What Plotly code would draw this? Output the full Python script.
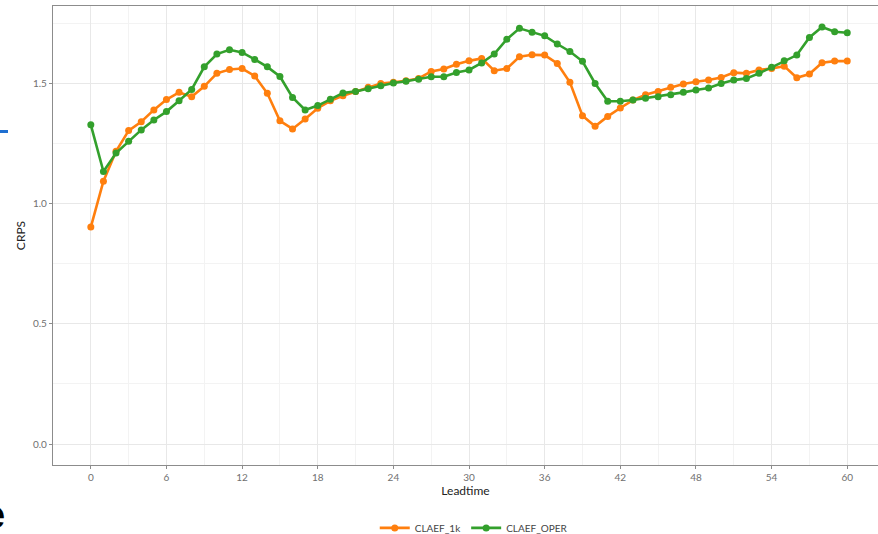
import plotly.graph_objects as go

# lead time in hours
leadtime = list(range(0, 61))

# CRPS
crps_1k = [0.902, 1.093, 1.217, 1.303, 1.340, 1.389, 1.432, 1.462, 1.444, 1.487,
           1.541, 1.557, 1.561, 1.530, 1.458, 1.344, 1.310, 1.351, 1.396, 1.427,
           1.448, 1.466, 1.483, 1.499, 1.504, 1.510, 1.520, 1.549, 1.559, 1.579,
           1.593, 1.603, 1.552, 1.561, 1.610, 1.618, 1.617, 1.582, 1.504, 1.365,
           1.321, 1.362, 1.397, 1.430, 1.452, 1.466, 1.483, 1.497, 1.506, 1.513,
           1.524, 1.544, 1.541, 1.555, 1.561, 1.571, 1.523, 1.538, 1.585, 1.592,
           1.592]
crps_oper = [1.327, 1.133, 1.210, 1.259, 1.306, 1.347, 1.382, 1.427, 1.474, 1.568,
             1.621, 1.639, 1.628, 1.599, 1.568, 1.528, 1.441, 1.389, 1.407, 1.433,
             1.459, 1.466, 1.477, 1.490, 1.501, 1.508, 1.517, 1.527, 1.527, 1.545,
             1.555, 1.584, 1.621, 1.683, 1.728, 1.712, 1.697, 1.663, 1.632, 1.591,
             1.499, 1.425, 1.425, 1.430, 1.438, 1.444, 1.452, 1.462, 1.472, 1.480,
             1.499, 1.513, 1.520, 1.541, 1.566, 1.593, 1.617, 1.690, 1.734, 1.714,
             1.710]

x_ticks = list(range(0, 61, 6))
y_ticks = [0.0, 0.5, 1.0, 1.5]
y_tick_labels = ["0.0", "0.5", "1.0", "1.5"]

fig = go.Figure()
fig.add_trace(go.Scatter(x=leadtime, y=crps_1k, name="CLAEF_1k", mode="lines+markers",
                         line=dict(color="#ff7f0e", width=2.6),
                         marker=dict(size=7, color="#ff7f0e")))
fig.add_trace(go.Scatter(x=leadtime, y=crps_oper, name="CLAEF_OPER", mode="lines+markers",
                         line=dict(color="#33a02c", width=2.6),
                         marker=dict(size=7, color="#33a02c")))

axis_common = dict(showline=True, linecolor="#8c8c8c", linewidth=1.3, mirror=True,
                   gridcolor="#e8e8e8", gridwidth=1, zeroline=False,
                   ticks="outside", ticklen=3, tickcolor="#8c8c8c",
                   tickfont=dict(family="Lato", size=10, color="#707070"))

fig.update_xaxes(range=[-3, 62.44], tickvals=x_ticks,
                 minor=dict(dtick=3, tick0=0, showgrid=True, gridcolor="#f3f3f3", ticks=""),
                 title=dict(text="Leadtime", font=dict(family="Lato", size=12, color="#222222"),
                            standoff=4),
                 **axis_common)
fig.update_yaxes(range=[-0.087, 1.821], tickvals=y_ticks, ticktext=y_tick_labels,
                 minor=dict(dtick=0.25, tick0=0, showgrid=True, gridcolor="#f3f3f3", ticks=""),
                 title=dict(text="CRPS", font=dict(family="Lato", size=12, color="#222222"),
                            standoff=4),
                 **axis_common)

# bits of the slide showing at the left edge
fig.add_shape(type="line", xref="paper", yref="paper",
              x0=-53 / 825, x1=-45 / 825, y0=0.7266, y1=0.7266,
              line=dict(color="#1f6fd1", width=3))
fig.add_annotation(text="<b>e</b>", xref="paper", yref="paper", x=-46 / 825, y=-0.109,
                   xanchor="right", yanchor="middle", showarrow=False,
                   font=dict(family="Liberation Sans", size=38, color="#000000"))

fig.update_layout(
    width=878, height=534,
    margin=dict(l=53, r=0, t=6, b=69, autoexpand=False),
    paper_bgcolor="white", plot_bgcolor="white",
    showlegend=True,
    legend=dict(orientation="h", x=0.51, xanchor="center", y=-0.137, yanchor="middle",
                font=dict(family="Lato", size=10, color="#444444"), itemwidth=30),
)

# the page's default body margin would push the figure 8px in
fig.write_html("out.html", config={"displayModeBar": False},
               post_script="document.body.style.margin = '0px';")
